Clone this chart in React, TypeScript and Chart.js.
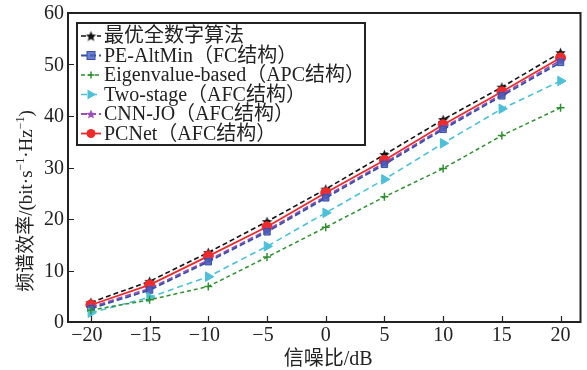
import React, { useEffect, useRef } from "react";
import { Chart, registerables } from "chart.js";

Chart.register(...registerables);

const snr = [-20, -15, -10, -5, 0, 5, 10, 15, 20];
const xTicks = [-20, -15, -10, -5, 0, 5, 10, 15, 20];
const yTicks = [0, 10, 20, 30, 40, 50, 60];

const optimal = [3.8, 7.9, 13.5, 19.5, 25.8, 32.5, 39.3, 45.6, 52.3];
const peAltMin = [2.6, 6.2, 11.7, 17.5, 24.1, 30.6, 37.4, 43.9, 50.4];
const eigenBased = [2.3, 4.3, 6.9, 12.6, 18.4, 24.3, 29.8, 36.2, 41.6];
const twoStage = [1.8, 4.8, 8.8, 14.7, 21.2, 27.7, 34.7, 41.4, 46.8];
const cnnJo = [2.9, 6.5, 12.0, 17.8, 24.4, 30.9, 37.7, 44.2, 50.8];
const pcNet = [3.3, 7.2, 12.8, 18.5, 25.1, 31.4, 38.3, 44.7, 51.3];

const labels = [
  "最优全数字算法",
  "PE-AltMin（FC结构）",
  "Eigenvalue-based（APC结构）",
  "Two-stage（AFC结构）",
  "CNN-JO（AFC结构）",
  "PCNet（AFC结构）",
];

const FONT = '"Liberation Serif", "Noto Sans CJK SC", serif';

function starCanvas(color: string, size: number) {
  const c = document.createElement("canvas");
  c.width = size;
  c.height = size;
  const ctx = c.getContext("2d")!;
  const cx = size / 2, cy = size / 2 + size * 0.05;
  const R = size / 2, r = R * 0.45;
  ctx.beginPath();
  for (let i = 0; i < 10; i++) {
    const a = -Math.PI / 2 + (i * Math.PI) / 5;
    const rad = i % 2 === 0 ? R : r;
    const x = cx + rad * Math.cos(a), y = cy + rad * Math.sin(a);
    if (i === 0) ctx.moveTo(x, y); else ctx.lineTo(x, y);
  }
  ctx.closePath();
  ctx.fillStyle = color;
  ctx.fill();
  return c;
}

export default function App() {
  const ref = useRef<HTMLCanvasElement>(null);
  useEffect(() => {
    const blackStar = starCanvas("#111111", 11);
    const purpleStar = starCanvas("#9b4fb5", 10);
    const styles = [
      { color: "#111111", dash: [5, 3], point: blackStar as any, radius: 5, rot: 0, fill: "#111111", width: 1.6 },
      { color: "#3650a8", dash: [6, 3], point: "rect", radius: 4.5, rot: 0, fill: "rgba(70,95,190,0.8)", width: 1.8 },
      { color: "#2f8f2f", dash: [4, 3], point: "cross", radius: 4, rot: 0, fill: "#2f8f2f", width: 1.5 },
      { color: "#4cc0d8", dash: [6, 4], point: "triangle", radius: 5.5, rot: 90, fill: "#4cc0d8", width: 1.6 },
      { color: "#9b4fb5", dash: [6, 3], point: purpleStar as any, radius: 5, rot: 0, fill: "#9b4fb5", width: 1.8 },
      { color: "#ee2a2a", dash: [], point: "circle", radius: 5, rot: 0, fill: "#ee2a2a", width: 1.8 },
    ];
    const series = [optimal, peAltMin, eigenBased, twoStage, cnnJo, pcNet];
    const drawOrder = [2, 3, 1, 4, 5, 0];

    const datasets = drawOrder.map((i) => ({
      label: labels[i],
      data: snr.map((x, k) => ({ x, y: series[i][k] })),
      borderColor: styles[i].color,
      backgroundColor: styles[i].fill,
      borderDash: styles[i].dash,
      borderWidth: styles[i].width,
      pointStyle: styles[i].point,
      pointRadius: styles[i].radius,
      pointRotation: styles[i].rot,
      pointBorderWidth: i === 2 ? 1.5 : 1,
      pointBorderColor: styles[i].color,
      pointBackgroundColor: styles[i].fill,
      tension: 0,
      fill: false,
    }));

    const decor = {
      id: "decor",
      afterDraw(chart: any) {
        const ctx = chart.ctx as CanvasRenderingContext2D;
        const a = chart.chartArea;
        const xs = chart.scales.x, ys = chart.scales.y;
        ctx.save();
        // frame
        ctx.strokeStyle = "#222";
        ctx.lineWidth = 2;
        ctx.setLineDash([]);
        ctx.strokeRect(a.left, a.top, a.right - a.left, a.bottom - a.top);
        // ticks inward
        ctx.lineWidth = 1.2;
        ctx.beginPath();
        for (const v of xTicks) {
          const p = Math.round(xs.getPixelForValue(v)) + 0.5;
          ctx.moveTo(p, a.bottom);
          ctx.lineTo(p, a.bottom - 6);
        }
        for (const v of yTicks) {
          const p = Math.round(ys.getPixelForValue(v)) + 0.5;
          ctx.moveTo(a.left, p);
          ctx.lineTo(a.left + 6, p);
        }
        ctx.stroke();
        // tick labels
        ctx.fillStyle = "#222";
        ctx.font = `20px ${FONT}`;
        ctx.textBaseline = "middle";
        ctx.textAlign = "right";
        for (const v of yTicks) {
          ctx.fillText(String(v), a.left - 4, ys.getPixelForValue(v) + 1);
        }
        ctx.textAlign = "center";
        for (const v of xTicks) {
          const s = v < 0 ? "\u2212" + Math.abs(v) : String(v);
          ctx.fillText(s, xs.getPixelForValue(v) - (v < 0 ? 4 : 0), a.bottom + 14);
        }
        // x title
        ctx.font = `20px ${FONT}`;
        ctx.fillText("信噪比/dB", (a.left + a.right) / 2 + 4, a.bottom + 38);
        // y title
        ctx.save();
        ctx.translate(27, 201);
        ctx.rotate(-Math.PI / 2);
        const parts: [string, boolean][] = [
          ["频谱效率/(bit·s", false],
          ["\u22121", true],
          ["·Hz", false],
          ["\u22121", true],
          [")", false],
        ];
        const big = `19px ${FONT}`, small = `12px ${FONT}`;
        let total = 0;
        for (const [t, sup] of parts) {
          ctx.font = sup ? small : big;
          total += ctx.measureText(t).width;
        }
        let x = -total / 2;
        ctx.textAlign = "left";
        for (const [t, sup] of parts) {
          ctx.font = sup ? small : big;
          ctx.fillText(t, x, sup ? -6 : 0);
          x += ctx.measureText(t).width;
        }
        ctx.restore();

        // legend
        const lx = 77, ly = 23, lw = 288, lh = 122;
        ctx.fillStyle = "#fff";
        ctx.fillRect(lx, ly, lw, lh);
        ctx.strokeStyle = "#222";
        ctx.lineWidth = 2;
        ctx.strokeRect(lx, ly, lw, lh);
        for (let i = 0; i < 6; i++) {
          const st = styles[i];
          const y = 36 + i * 19.5;
          ctx.strokeStyle = st.color;
          ctx.lineWidth = st.width;
          ctx.setLineDash(st.dash);
          ctx.beginPath();
          ctx.moveTo(81, y);
          ctx.lineTo(101, y);
          ctx.stroke();
          ctx.setLineDash([]);
          const cx = 91;
          ctx.fillStyle = st.fill;
          ctx.strokeStyle = st.color;
          ctx.lineWidth = 1;
          if (i === 0 || i === 4) {
            const img = i === 0 ? blackStar : purpleStar;
            ctx.drawImage(img, cx - img.width / 2, y - img.height / 2);
          } else if (i === 1) {
            ctx.fillRect(cx - 4, y - 4, 8, 8);
            ctx.strokeRect(cx - 4, y - 4, 8, 8);
          } else if (i === 2) {
            ctx.lineWidth = 1.5;
            ctx.beginPath();
            ctx.moveTo(cx - 3.5, y); ctx.lineTo(cx + 3.5, y);
            ctx.moveTo(cx, y - 3.5); ctx.lineTo(cx, y + 3.5);
            ctx.stroke();
          } else if (i === 3) {
            ctx.beginPath();
            ctx.moveTo(cx + 5, y); ctx.lineTo(cx - 3.5, y - 5); ctx.lineTo(cx - 3.5, y + 5);
            ctx.closePath();
            ctx.fill();
          } else {
            ctx.beginPath();
            ctx.arc(cx, y, 4.5, 0, Math.PI * 2);
            ctx.fill();
          }
          ctx.fillStyle = "#222";
          ctx.font = `20px ${FONT}`;
          ctx.textAlign = "left";
          ctx.textBaseline = "middle";
          ctx.fillText(labels[i], 104, y + 1);
        }
        ctx.restore();
      },
    };

    const chart = new Chart(ref.current!, {
      type: "line",
      data: { datasets: datasets as any },
      options: {
        animation: false,
        responsive: false,
        layout: { padding: { left: 68, right: 4, top: 13, bottom: 48 } },
        plugins: { legend: { display: false }, tooltip: { enabled: false } },
        scales: {
          x: {
            type: "linear",
            display: false,
            min: -21.95,
            max: 21.7,
            afterBuildTicks: (s: any) => { s.ticks = xTicks.map((v) => ({ value: v })); },
          },
          y: {
            type: "linear",
            display: false,
            min: 0,
            max: 60,
            afterBuildTicks: (s: any) => { s.ticks = yTicks.map((v) => ({ value: v })); },
          },
        },
      },
      plugins: [decor],
    });
    return () => chart.destroy();
  }, []);
  return (
    <div style={{ position: "fixed", left: 0, top: 0, width: 587, height: 370, background: "#fff" }}>
      <canvas ref={ref} width={587} height={370} style={{ width: 587, height: 370 }} />
    </div>
  );
}
